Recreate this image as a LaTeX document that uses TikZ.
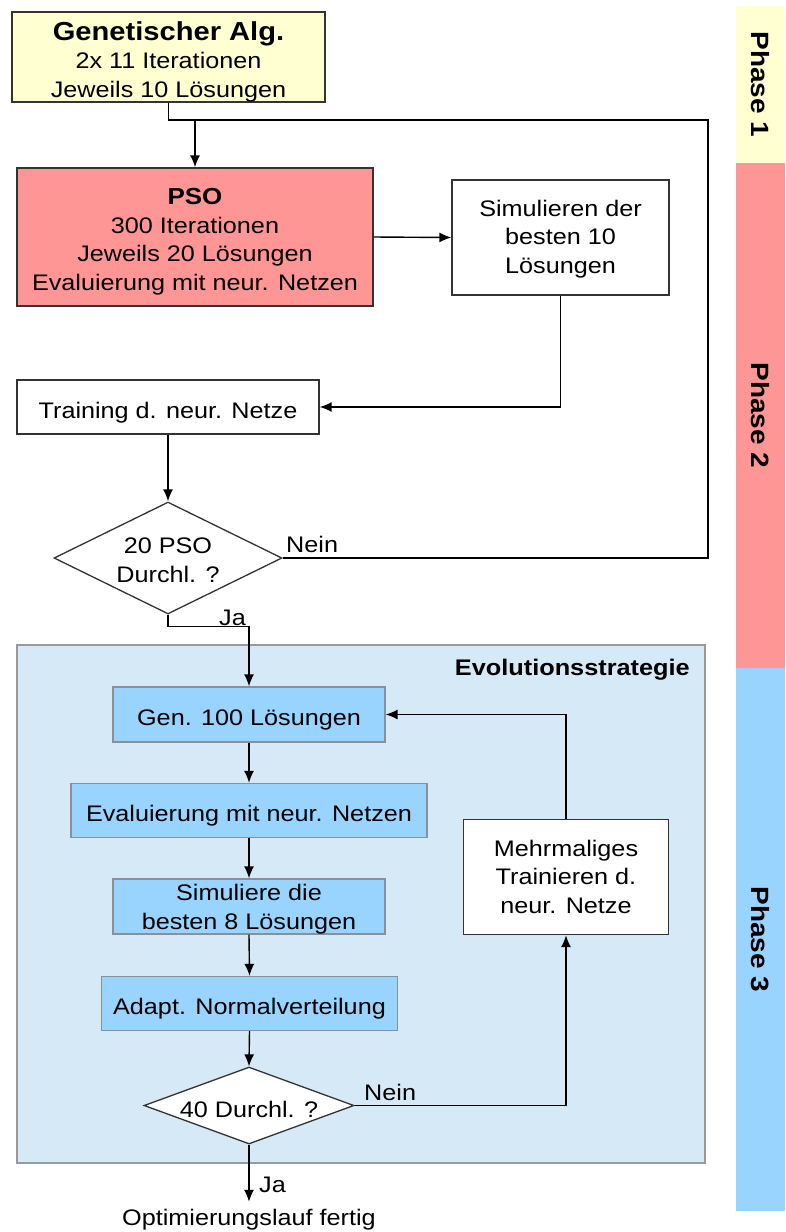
\documentclass[tikz,border=0pt]{standalone}
\usepackage{fontspec}
\setmainfont{Liberation Sans}[FakeStretch=1.12]
\usepackage{xcolor}
\usepackage{tikz}
\usetikzlibrary{shapes.geometric,arrows.meta}

\definecolor{gayellow}{RGB}{255,255,210}
\definecolor{psored}{RGB}{255,150,150}
\definecolor{esblue}{RGB}{153,212,255}
\definecolor{esback}{RGB}{214,233,246}
\definecolor{boxgray}{RGB}{135,145,155}

\begin{document}
\begin{tikzpicture}[x=1pt, y=-1pt, font=\fontsize{22.5}{28.5}\selectfont,
        box/.style={rectangle, draw=black!80, line width=1.3pt, inner sep=0pt, align=center, text depth=0pt},
        oneline/.style={text height=22pt},
        esbox/.style={box, fill=esblue, draw=boxgray},
        decision/.style={diamond, draw=black!80, fill=white, line width=1.3pt, inner sep=0pt, align=center, text depth=0pt},
        flow/.style={line width=1.4pt, -{Latex[length=12pt,width=10pt]}},
        link/.style={line width=1.4pt},
        tag/.style={inner sep=1pt},
        phase/.style={rectangle, minimum width=49pt, inner sep=0pt},
        head/.style={font=\fontsize{25}{28}\selectfont\bfseries}]
        \useasboundingbox (0,0) rectangle (785,1232);

        % Phase bars on the right
        \node[phase, fill=gayellow, minimum height=157pt] (ph1) at (760.5,84.5) {};
        \node[phase, fill=psored, minimum height=505pt] (ph2) at (760.5,415.5) {};
        \node[phase, fill=esblue, minimum height=543pt] (ph3) at (760.5,939.5) {};
        \node[head, rotate=-90] (ph1txt) at (ph1) {Phase 1};
        \node[head, rotate=-90] (ph2txt) at (ph2) {Phase 2};
        \node[head, rotate=-90] (ph3txt) at (ph3) {Phase 3};

        % Evolution strategy block
        \node[rectangle, draw=gray!80, fill=esback, line width=1.2pt, inner sep=0pt,
            minimum width=688pt, minimum height=518pt] (es) at (361,904) {};
        \node[tag, anchor=base east, font=\fontsize{22.6}{28}\selectfont\bfseries] (estitle) at (691,675) {Evolutionsstrategie};

        % Phase 1 and 2
        \node[box, fill=gayellow, minimum width=313pt, minimum height=90pt, text height=80pt] (ga) at (168.5,57)
            {{\fontsize{26}{28.5}\selectfont\bfseries Genetischer Alg.}\\2x 11 Iterationen\\Jeweils 10 Lösungen};
        \node[box, fill=psored, minimum width=356pt, minimum height=138pt, text height=106pt] (pso) at (195,237)
            {{\fontsize{23.2}{28.5}\selectfont\bfseries PSO}\\300 Iterationen\\Jeweils 20 Lösungen\\Evaluierung mit neur. Netzen};
        \node[box, fill=white, minimum width=217pt, minimum height=115pt, text height=71pt] (sim) at (560.5,237.5)
            {Simulieren der\\besten 10\\Lösungen};
        \node[box, oneline, fill=white, minimum width=302pt, minimum height=54pt] (train) at (168,407) {Training d. neur. Netze};
        \node[decision, minimum width=228pt, minimum height=112pt, aspect=2.04, text height=48pt] (d1) at (168,558) {20 PSO\\Durchl. ?};

        % Phase 3
        \node[esbox, oneline, minimum width=272pt, minimum height=55pt] (gen) at (249,714.5) {Gen. 100 Lösungen};
        \node[esbox, oneline, minimum width=356pt, minimum height=54pt] (eval) at (249,810.5) {Evaluierung mit neur. Netzen};
        \node[esbox, minimum width=272pt, minimum height=55pt, text height=45pt] (sim8) at (249,906.5) {Simuliere die\\besten 8 Lösungen};
        \node[esbox, oneline, minimum width=296pt, minimum height=54pt] (adapt) at (249.5,1003.5) {Adapt. Normalverteilung};
        \node[decision, minimum width=210pt, minimum height=77pt, aspect=2.73, text height=23pt] (d2) at (249,1105.5) {40 Durchl. ?};
        \node[box, fill=white, minimum width=205pt, minimum height=115pt, text height=72pt] (mehr) at (566,877)
            {Mehrmaliges\\Trainieren d.\\neur. Netze};
        \node[tag, anchor=base, text height=22pt] (done) at (249,1225) {Optimierungslauf fertig};

        % connectors
        \coordinate (split) at (195,120);
        \coordinate (loop) at (708,120);
        \draw[link] (ga.south) |- (loop) |- (d1.east);
        \draw[flow] (split) -- (pso.north);
        \draw[flow] (pso.east) -- (sim.west);
        \draw[flow] (sim.south) |- (train.east);
        \draw[flow] (train.south) -- (d1.north);
        \draw[flow] (d1.south) -- ++(0,12) -| (gen.north);
        \node[tag, anchor=base east] (ja1) at (247,625) {Ja};
        \node[tag, anchor=base west] (nein1) at (285,552) {Nein};

        \draw[flow] (gen.south) -- (eval.north);
        \draw[flow] (eval.south) -- (sim8.north);
        \draw[flow] (sim8.south) -- (adapt.north);
        \draw[flow] (adapt.south) -- (d2.north);
        \draw[flow] (d2.east) -| (mehr.south);
        \draw[flow] (mehr.north) |- (gen.east);
        \draw[flow] (d2.south) -- (done.north);
        \node[tag, anchor=base west] (nein2) at (363,1100) {Nein};
        \node[tag, anchor=base west] (ja2) at (258,1192) {Ja};
    \end{tikzpicture}
\end{document}
